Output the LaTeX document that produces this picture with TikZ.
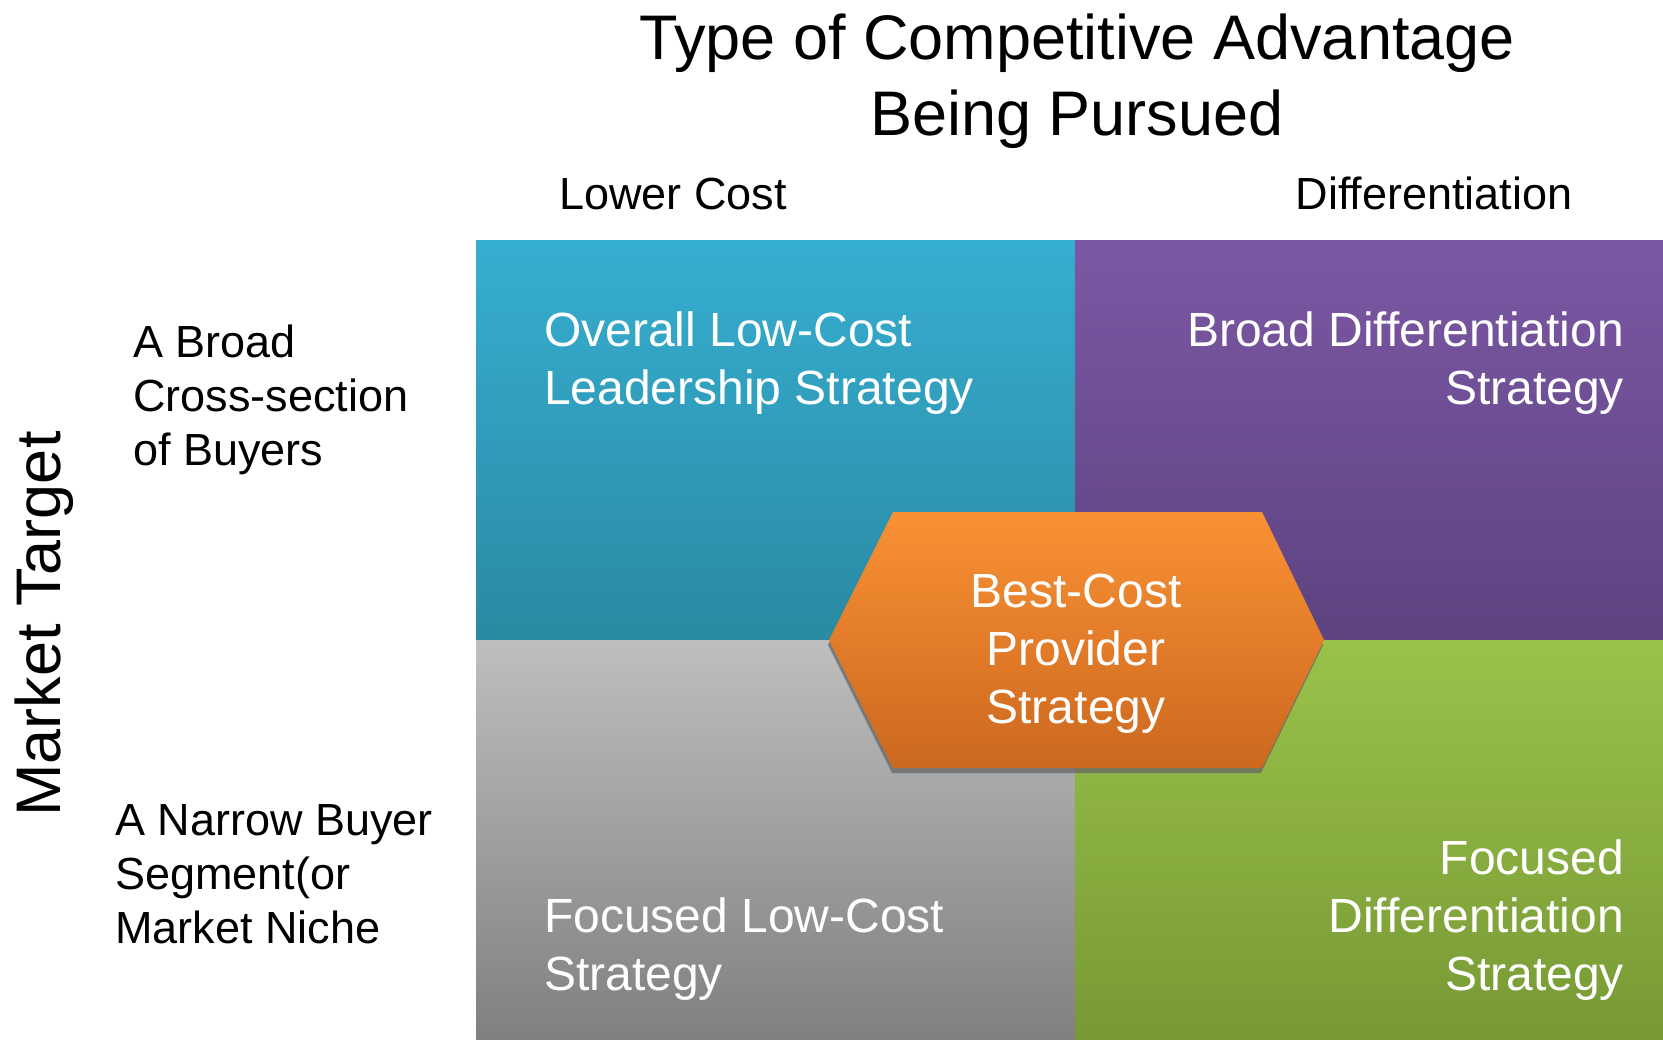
\documentclass[tikz,border=0pt]{standalone}
\usepackage{fontspec}
\setmainfont{Liberation Sans}
\usetikzlibrary{positioning}
\definecolor{tealtop}{HTML}{36AED1}
\definecolor{tealbot}{HTML}{2A8AA2}
\definecolor{purptop}{HTML}{7B58A4}
\definecolor{purpbot}{HTML}{5D4380}
\definecolor{greytop}{HTML}{BEBEBE}
\definecolor{greybot}{HTML}{808080}
\definecolor{greentop}{HTML}{9AC24A}
\definecolor{greenbot}{HTML}{779935}
\definecolor{orangetop}{HTML}{F99134}
\definecolor{orangebot}{HTML}{CC681F}
\tikzset{
  quad/.style={inner sep=0pt, outer sep=0pt, shade, shading angle=0},
  big/.style={font=\fontsize{63}{76}\selectfont, inner sep=0pt},
  side/.style={font=\fontsize{45}{54}\selectfont, inner sep=0pt, align=left},
  inbox/.style={font=\fontsize{48}{58}\selectfont, inner sep=0pt, text=white}
}
\begin{document}
\begin{tikzpicture}[x=1pt,y=-1pt]
  \useasboundingbox (0,0) rectangle (1663,1042);
  \shade[quad, top color=tealtop, bottom color=tealbot]
    (476,240) rectangle (1075,640);
  \shade[quad, top color=purptop, bottom color=purpbot]
    (1075,240) rectangle (1663,640);
  \shade[quad, top color=greytop, bottom color=greybot]
    (476,640) rectangle (1075,1039);
  \shade[quad, top color=greentop, bottom color=greenbot]
    (1075,640) rectangle (1663,1039);

  \coordinate (hexw) at (829,640);
  \coordinate (hexnw) at (893,512);
  \coordinate (hexne) at (1262,512);
  \coordinate (hexe) at (1324,640);
  \coordinate (hexse) at (1262,768);
  \coordinate (hexsw) at (893,768);
  \fill[black!60, opacity=0.75, transform canvas={xshift=-1pt, yshift=-5pt}]
    (hexw) -- (hexnw) -- (hexne) -- (hexe) -- (hexse) -- (hexsw) -- cycle;
  \shade[top color=orangetop, bottom color=orangebot]
    (hexw) -- (hexnw) -- (hexne) -- (hexe) -- (hexse) -- (hexsw) -- cycle;

  \node[big, anchor=north, align=center] (title) at (1077,14)
    {Type of Competitive Advantage\\Being Pursued};
  \node[side, anchor=base] (lowcost) at (673,209) {Lower Cost};
  \node[side, anchor=base] (diff) at (1434,209) {Differentiation};
  \node[big, rotate=90, anchor=base] (target) at (60,624) {Market Target};
  \node[side, anchor=north west] (broad) at (133,325)
    {A Broad\\Cross-section\\of Buyers};
  \node[side, anchor=north west] (narrow) at (115,804)
    {A Narrow Buyer\\Segment(or\\Market Niche};

  \node[inbox, anchor=north west, align=left] (overall) at (544,312)
    {Overall Low-Cost\\Leadership Strategy};
  \node[inbox, anchor=north east, align=right] (broaddiff) at (1624,312)
    {Broad Differentiation\\Strategy};
  \node[inbox, anchor=north west, align=left] (focuslow) at (544,898)
    {Focused Low-Cost\\Strategy};
  \node[inbox, anchor=north east, align=right] (focusdiff) at (1624,840)
    {Focused\\Differentiation\\Strategy};
  \node[inbox, anchor=north, align=center] (bestcost) at (1076,574)
    {Best-Cost\\Provider\\Strategy};
\end{tikzpicture}
\end{document}
